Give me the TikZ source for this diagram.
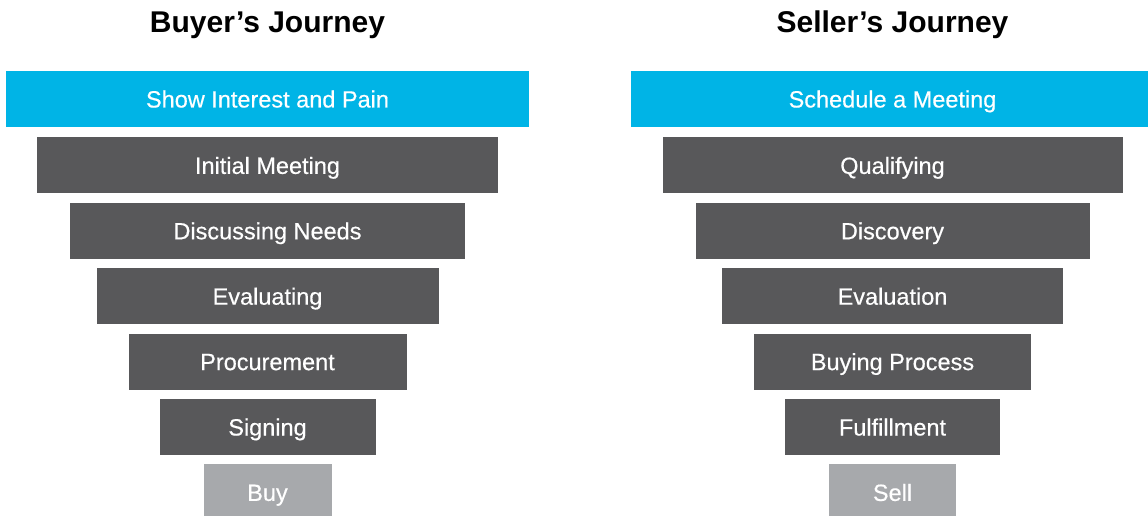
\documentclass[tikz,border=0pt]{standalone}
\usepackage{fontspec}
\setmainfont{Liberation Sans}
\newfontfamily\stagefont[FakeBold=0.4]{Liberation Sans}
\usetikzlibrary{positioning}
\definecolor{stagecyan}{HTML}{00B4E6}
\definecolor{stagegray}{HTML}{58585A}
\definecolor{stagelight}{HTML}{A7A9AC}

\begin{document}
\begin{tikzpicture}[x=1pt,y=-1pt,node distance=9pt,
  every node/.style={align=center, inner sep=0pt, font=\stagefont\fontsize{23.5}{28}\selectfont},
  stagebar/.style={fill=stagegray, text=white, minimum height=56pt, text height=20pt, text depth=3pt},
  headbar/.style={stagebar, fill=stagecyan},
  endbar/.style={stagebar, fill=stagelight},
  journeytitle/.style={font=\normalfont\fontsize{30}{36}\selectfont\bfseries}]
\useasboundingbox (0,0) rectangle (1148,516);

% buyer side
\node[journeytitle] (buyer) at (267.5,25) {Buyer’s Journey};
\node[headbar, minimum width=523pt] (interest) at (267.5,99) {Show Interest and Pain};
\node[stagebar, minimum width=461pt, below=10pt of interest] (meeting) {Initial Meeting};
\node[stagebar, minimum width=395pt, below=of meeting] (needs) {Discussing Needs};
\node[stagebar, minimum width=342pt, below=of needs] (evaluating) {Evaluating};
\node[stagebar, minimum width=278pt, below=of evaluating] (procurement) {Procurement};
\node[stagebar, minimum width=216pt, below=of procurement] (signing) {Signing};
\node[endbar, minimum width=128pt, below=of signing] (buy) {Buy};

% seller side
\node[journeytitle] (seller) at (892.5,25) {Seller’s Journey};
\node[headbar, minimum width=523pt] (schedule) at (892.5,99) {Schedule a Meeting};
\node[stagebar, minimum width=460pt, below=10pt of schedule] (qualifying) {Qualifying};
\node[stagebar, minimum width=394pt, below=of qualifying] (discovery) {Discovery};
\node[stagebar, minimum width=341pt, below=of discovery] (evaluation) {Evaluation};
\node[stagebar, minimum width=277pt, below=of evaluation] (buying) {Buying Process};
\node[stagebar, minimum width=215pt, below=of buying] (fulfillment) {Fulfillment};
\node[endbar, minimum width=127pt, below=of fulfillment] (sell) {Sell};
\end{tikzpicture}
\end{document}
